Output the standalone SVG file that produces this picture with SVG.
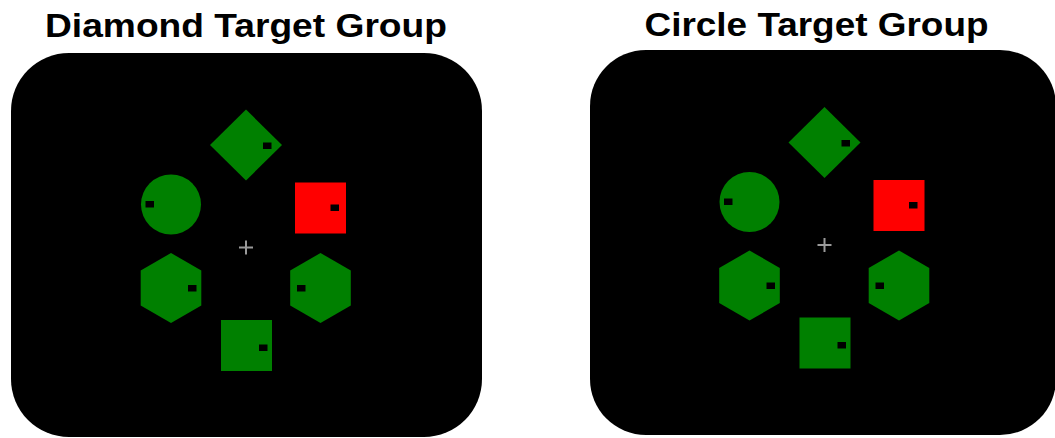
<svg xmlns="http://www.w3.org/2000/svg" width="1055" height="438" viewBox="0 0 1055 438">
  <defs>
    <style>
      .title { font-family: "Liberation Sans", Arial, sans-serif; font-weight: bold; font-size: 34px; fill: #000; text-anchor: middle; }
      .panel { fill: #000; }
      .green { fill: #008000; }
      .red { fill: #ff0000; }
      .dot { fill: #000; }
      .fix { stroke: #9a9a9a; stroke-width: 2; fill: none; }
    </style>
    <!-- one stimulus display, drawn around its fixation cross at (0,0) -->
    <g id="display">
      <path class="fix" d="M-7,0 H7 M0,-7 V7"/>
      <!-- diamond -->
      <polygon class="green" points="0,-138 36,-102.5 0,-67 -36,-102.5"/>
      <rect class="dot" x="17" y="-105" width="8.5" height="6.5"/>
      <!-- circle -->
      <circle class="green" cx="-75" cy="-43" r="30"/>
      <rect class="dot" x="-100.5" y="-46.5" width="8.5" height="6.5"/>
      <!-- square (red) -->
      <rect class="red" x="49" y="-65" width="51" height="51"/>
      <rect class="dot" x="84.5" y="-43" width="8.5" height="6.5"/>
      <!-- left hexagon -->
      <polygon class="green" points="-75,5.5 -44.7,23 -44.7,58 -75,75.5 -105.3,58 -105.3,23"/>
      <rect class="dot" x="-58" y="37.5" width="8.5" height="6.5"/>
      <!-- right hexagon -->
      <polygon class="green" points="74.5,5.5 104.8,23 104.8,58 74.5,75.5 44.2,58 44.2,23"/>
      <rect class="dot" x="51" y="37.5" width="8.5" height="6.5"/>
      <!-- bottom square -->
      <rect class="green" x="-25" y="72.5" width="51" height="51"/>
      <rect class="dot" x="13" y="97" width="8.5" height="6.5"/>
    </g>
  </defs>

  <g id="diamond-target-group">
    <text class="title" x="246" y="36.5" textLength="402" lengthAdjust="spacingAndGlyphs">Diamond Target Group</text>
    <rect class="panel" x="11" y="53" width="471" height="384" rx="58" ry="58"/>
    <use href="#display" x="246" y="247.5"/>
  </g>

  <g id="circle-target-group">
    <text class="title" x="816.5" y="36" textLength="344" lengthAdjust="spacingAndGlyphs">Circle Target Group</text>
    <rect class="panel" x="590" y="50" width="466" height="385" rx="56" ry="56"/>
    <use href="#display" x="824.5" y="245"/>
  </g>
</svg>
